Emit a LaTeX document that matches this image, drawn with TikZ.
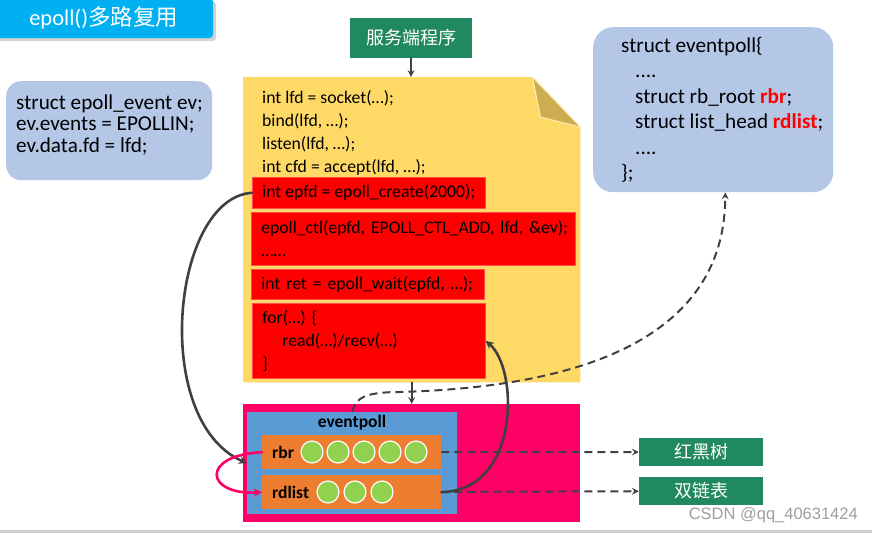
\documentclass[tikz,border=0pt]{standalone}
\usepackage{fontspec}
\setmainfont{Carlito}
\newfontfamily\cjk{Noto Sans CJK SC}
\newfontfamily\wmfont{Liberation Sans}
\usetikzlibrary{shadows}
\definecolor{titlecyan}{RGB}{0,176,240}
\definecolor{srvgreen}{RGB}{33,137,96}
\definecolor{docyellow}{RGB}{255,217,102}
\definecolor{docfold}{RGB}{204,173,82}
\definecolor{poolpink}{RGB}{255,0,102}
\definecolor{evpblue}{RGB}{91,155,213}
\definecolor{listorange}{RGB}{237,125,49}
\definecolor{ballgreen}{RGB}{146,208,80}
\definecolor{notebg}{RGB}{180,199,231}
\definecolor{linkgray}{RGB}{64,64,64}
\begin{document}
\begin{tikzpicture}[x=1pt,y=-1pt,>=stealth, line join=round, line cap=round,
    code/.style={font=\fontsize{17.7}{23}\selectfont},
    redbox/.style={code, fill=red, draw=red!70!white, line width=.6pt, align=left, inner xsep=10pt, inner ysep=0pt, anchor=north west},
    notebox/.style={fill=notebg, rounded corners=#1, anchor=north west, inner sep=0pt},
    notetext/.style={align=left, anchor=west, inner sep=0pt},
    greenbox/.style={fill=srvgreen, text=white, font=\cjk\fontsize{18}{18}\selectfont, inner sep=0pt},
    slot/.style={fill=listorange, font=\bfseries\fontsize{17.5}{17.5}\selectfont, anchor=north west, text width=159pt, inner xsep=10pt, inner ysep=0pt, minimum height=34pt, align=left},
    ball/.style={circle, fill=ballgreen, draw=white, line width=1.2pt, minimum size=22pt, inner sep=0pt},
    link/.style={draw=linkgray, line width=2.6pt, ->},
    dlink/.style={draw=linkgray, line width=2pt, line cap=butt, dash pattern=on 8pt off 5pt, ->}
  ]
  \useasboundingbox (0,0) rectangle (872,533);
  % title
  \node[fill=titlecyan, rounded corners=4pt, minimum width=219pt, minimum height=40pt, anchor=north west,
    drop shadow={shadow xshift=3pt, shadow yshift=-3pt, opacity=.35}, text=white,
    font=\fontsize{22.5}{22.5}\selectfont] (title) at (-6,-2) {epoll()\cjk 多路复用};
  % server program
  \node[greenbox, minimum width=122pt, minimum height=40pt] (srv) at (411,38) {服务端程序};
  % document
  \node[minimum width=337pt, minimum height=305pt, anchor=north west, inner sep=0pt] (doc) at (243,77) {};
  \fill[docyellow] (doc.north west) -- ([xshift=-48pt]doc.north east) -- ([yshift=-50pt]doc.north east)
    -- (doc.south east) -- (doc.south west) -- cycle;
  \filldraw[fill=docfold, draw=docyellow!50!white, line width=1pt] ([xshift=-48pt]doc.north east)
    -- ([xshift=-40pt,yshift=-40pt]doc.north east) -- ([yshift=-50pt]doc.north east) -- cycle;
  \foreach \y/\t [count=\i] in {98/{int lfd = socket(…);}, 121/{bind(lfd, …);}, 144/{listen(lfd, …);}, 167/{int cfd = accept(lfd, …);}}
    \node[code, anchor=west, inner sep=0pt] (line\i) at (262,\y) {\t};
  \node[redbox, minimum width=232pt, minimum height=31pt] (create) at (252,177) {int epfd = epoll\_create(2000);};
  \node[redbox, text width=304pt, minimum height=53pt] (ctl) at (251,212) {\mbox{epoll\_ctl(epfd, EPOLL\_CTL\_ADD, lfd, \&ev);}\\……};
  \node[redbox, text width=213pt, minimum height=30pt] (wait) at (251,269) {\mbox{int ret = epoll\_wait(epfd, …);}};
  \node[redbox, text width=213pt, minimum height=75pt] (forbox) at (252,303) {for(…) \{\\\hspace*{20pt}read(…)/recv(…)\\\}};
  % eventpoll
  \node[fill=poolpink, minimum width=337pt, minimum height=118pt, anchor=north west, inner sep=0pt] (pool) at (243,404) {};
  \node[fill=evpblue, minimum width=210pt, minimum height=102pt, anchor=north west, inner sep=0pt] (evp) at (247,412) {};
  \node[font=\bfseries\fontsize{17.5}{17.5}\selectfont, inner sep=0pt] (evplabel) at (352,423) {eventpoll};
  \node[slot] (rbr) at (262,435) {rbr};
  \node[slot] (rdlist) at (262,475) {rdlist};
  \foreach \i in {1,...,5}
    \node[ball] (rb\i) at ({312+26*(\i-1)},452) {};
  \foreach \i in {1,...,3}
    \node[ball] (rd\i) at ({328+27*(\i-1)},492) {};
  \node[greenbox, minimum width=124pt, minimum height=28pt] (rbt) at (701,452) {红黑树};
  \node[greenbox, minimum width=124pt, minimum height=28pt] (dll) at (701,491) {双链表};
  % notes
  \node[notebox=15pt, minimum width=206pt, minimum height=99pt] (evnote) at (6,81) {};
  \node[notetext, font=\fontsize{21.2}{21.5}\selectfont, yshift=6pt] (evtext) at ([xshift=10pt]evnote.west)
    {struct epoll\_event ev;\\ev.events = EPOLLIN;\\ev.data.fd = lfd;};
  \node[notebox=20pt, minimum width=240pt, minimum height=165pt] (epnote) at (593,27) {};
  \node[notetext, font=\fontsize{21.2}{25.4}\selectfont] (eptext) at ([xshift=28pt]epnote.west)
    {struct eventpoll\{\\
     \hspace*{14pt}....\\
     \hspace*{14pt}struct rb\_root {\color{red}\bfseries rbr};\\
     \hspace*{14pt}struct list\_head {\color{red}\bfseries rdlist};\\
     \hspace*{14pt}....\\
     \};};
  % connectors
  \draw[link, line width=2pt] (srv.south) -- (srv.south |- doc.north);
  \draw[link, line width=2pt] (doc.south) -- (pool.north);
  \draw[link] (create.west) .. controls +(-80,5) and +(-97,-43) .. (evp.west);
  \draw[link, draw=poolpink] (rbr.west) .. controls +(-62,3) and +(-57,3) .. (rdlist.west);
  \draw[link] (rdlist.east) .. controls +(79,-2) and +(33,28) .. (forbox.east);
  \coordinate (bend) at (400,392);
  \draw[dlink] (evp.north) .. controls +(3,-14) and +(-35,0) .. (bend)
    .. controls +(250,-7) and +(0,106) .. ([xshift=12pt]epnote.south);
  \draw[dlink] (rbr) -- (rbt);
  \draw[dlink] (rdlist) -- (dll);
  % watermark
  \node[anchor=east, text=black!38, font=\wmfont\fontsize{16.5}{16.5}\selectfont, inner sep=0pt] (mark) at (858,515) {CSDN @qq\_40631424};
  \fill[black!20] (0,530) rectangle (872,533);
\end{tikzpicture}
\end{document}
